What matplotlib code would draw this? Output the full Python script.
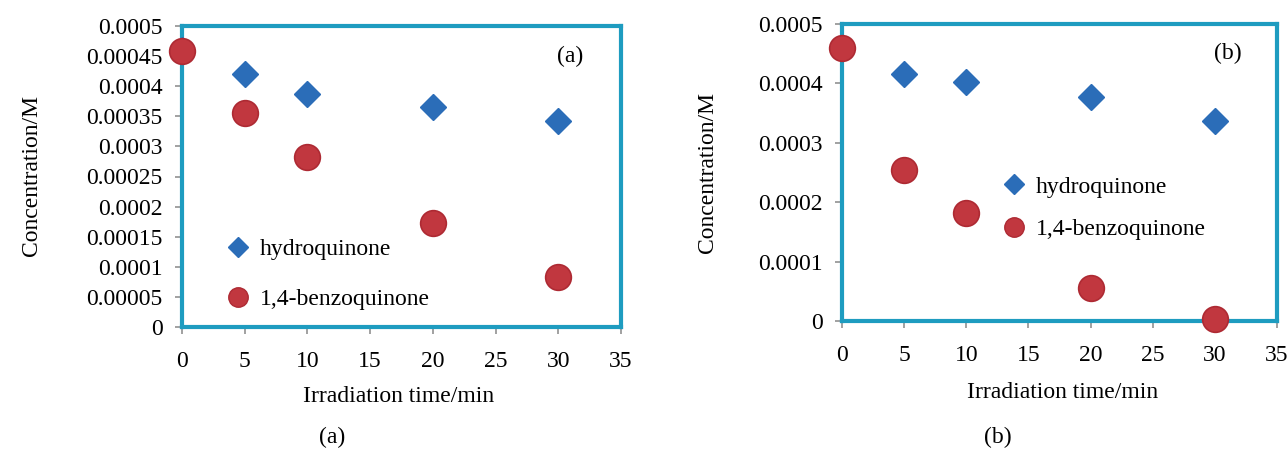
import matplotlib
matplotlib.use("Agg")
import matplotlib.pyplot as plt
from matplotlib.lines import Line2D

plt.rcParams['font.family'] = ['Liberation Serif', 'DejaVu Serif']

# ---- data ----
time_min = [0, 5, 10, 20, 30]
hq_a = [0.00046, 0.00042, 0.000387, 0.000366, 0.000342]
bq_a = [0.000459, 0.000356, 0.000283, 0.000173, 0.0000835]
hq_b = [0.00046, 0.000415, 0.000403, 0.000377, 0.000336]
bq_b = [0.00046, 0.000255, 0.000181, 0.000056, 0.000004]

xticks = [0, 5, 10, 15, 20, 25, 30, 35]
yticks_a = [0, 0.00005, 0.0001, 0.00015, 0.0002, 0.00025, 0.0003, 0.00035, 0.0004, 0.00045, 0.0005]
yticklabels_a = ['0', '0.00005', '0.0001', '0.00015', '0.0002', '0.00025', '0.0003',
                 '0.00035', '0.0004', '0.00045', '0.0005']
yticks_b = [0, 0.0001, 0.0002, 0.0003, 0.0004, 0.0005]
yticklabels_b = ['0', '0.0001', '0.0002', '0.0003', '0.0004', '0.0005']
series_names = ['hydroquinone', '1,4-benzoquinone']

W, H = 1288, 449
fig = plt.figure(figsize=(W / 100, H / 100), dpi=100)

BORDER = '#1E9CC0'
BLUE = '#2B6DB8'
RED = '#C1373F'
REDEDGE = '#AE2A33'
FS = 17


def px_axes(l, r, t, b):
    return fig.add_axes([l / W, 1 - b / H, (r - l) / W, (b - t) / H])


def make_panel(ax, hq, bq, yticks, yticklabels, tag, tag_xy, leg_anchor, leg_spacing):
    ax.plot(time_min, hq, linestyle='none', marker='D', markersize=13.5,
            color=BLUE, markeredgecolor=BLUE, clip_on=False, zorder=5)
    ax.plot(time_min, bq, linestyle='none', marker='o', markersize=18.5,
            markerfacecolor=RED, markeredgecolor=REDEDGE, markeredgewidth=1.2,
            clip_on=False, zorder=6)
    ax.set_xlim(0, 35)
    ax.set_ylim(0, 0.0005)
    ax.set_xticks(xticks)
    ax.set_xticklabels([str(v) for v in xticks])
    ax.set_yticks(yticks)
    ax.set_yticklabels(yticklabels)
    for s in ax.spines.values():
        s.set_color(BORDER)
        s.set_linewidth(3.0)
        s.set_zorder(3)
    ax.tick_params(direction='out', length=5, width=1.3, color='#9a9a9a',
                   labelsize=FS)
    ax.tick_params(axis='x', pad=12.5)
    ax.tick_params(axis='y', pad=9)
    ax.text(tag_xy[0], tag_xy[1], tag, transform=ax.transAxes, fontsize=FS,
            ha='center', va='center')
    handles = [Line2D([], [], linestyle='none', marker='D', markersize=10,
                      color=BLUE),
               Line2D([], [], linestyle='none', marker='o', markersize=14,
                      markerfacecolor=RED, markeredgecolor=REDEDGE)]
    ax.legend(handles, series_names, loc='upper left', bbox_to_anchor=leg_anchor,
              frameon=False, fontsize=FS, handlelength=1.0, handletextpad=0.4,
              labelspacing=leg_spacing, borderaxespad=0)


ax_a = px_axes(182, 621, 26, 327)
make_panel(ax_a, hq_a, bq_a, yticks_a, yticklabels_a, '(a)', (0.885, 0.9),
           (0.08, 0.325), 1.2)
ax_b = px_axes(842, 1277, 24, 321)
make_panel(ax_b, hq_b, bq_b, yticks_b, yticklabels_b, '(b)', (0.886, 0.9),
           (0.347, 0.52), 0.88)

# axis titles and captions
fig.text(32 / W, 1 - 176 / H, 'Concentration/M', rotation=90, fontsize=FS,
         ha='center', va='center')
fig.text(399 / W, 1 - 396 / H, 'Irradiation time/min', fontsize=FS,
         ha='center', va='center')
fig.text(332 / W, 1 - 437 / H, '(a)', fontsize=FS, ha='center', va='center')

fig.text(707 / W, 1 - 172 / H, 'Concentration/M', rotation=90, fontsize=FS,
         ha='center', va='center')
fig.text(1063 / W, 1 - 392 / H, 'Irradiation time/min', fontsize=FS,
         ha='center', va='center')
fig.text(998 / W, 1 - 437 / H, '(b)', fontsize=FS, ha='center', va='center')

fig.savefig('out.png', dpi=100)
